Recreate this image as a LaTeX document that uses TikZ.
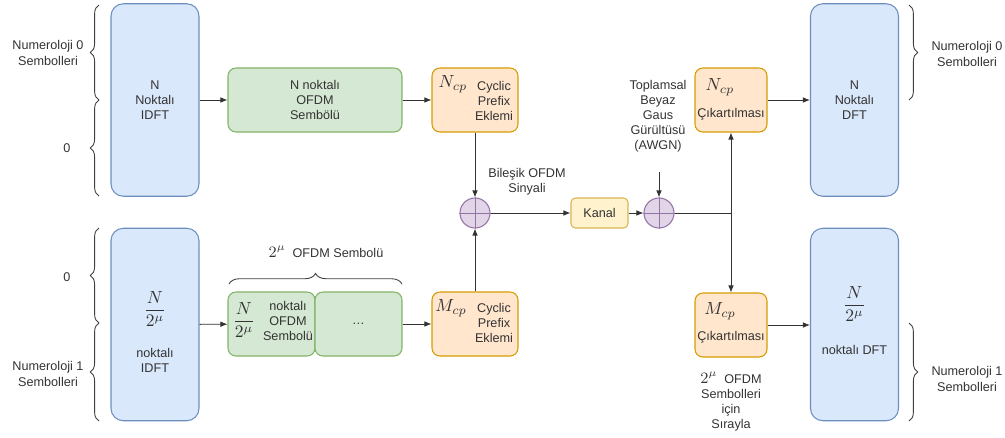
\documentclass[tikz,border=0pt]{standalone}
\usepackage{fontspec}
\setmainfont{Liberation Sans}
\usetikzlibrary{arrows.meta,decorations.pathreplacing}
\definecolor{maviDolgu}{HTML}{DAE8FC}
\definecolor{maviCizgi}{HTML}{6C8EBF}
\definecolor{yesilDolgu}{HTML}{D5E8D4}
\definecolor{yesilCizgi}{HTML}{82B366}
\definecolor{turuncuDolgu}{HTML}{FFE6CC}
\definecolor{turuncuCizgi}{HTML}{D79B00}
\definecolor{sariDolgu}{HTML}{FFF2CC}
\definecolor{sariCizgi}{HTML}{D6B656}
\definecolor{morDolgu}{HTML}{E1D5E7}
\definecolor{morCizgi}{HTML}{9673A6}
\newcommand{\ikimu}{{\fontsize{9}{10}\selectfont\(2^{\mu}\)}}
\begin{document}
\begin{tikzpicture}[x=0.02cm, y=-0.02cm, font=\fontsize{7.2}{8.6}\selectfont, text=black!80,
		every node/.style={align=center, inner sep=1pt},
		mavi/.style={draw=maviCizgi, fill=maviDolgu, line width=0.6pt, rounded corners=7pt, minimum width=1.76cm, minimum height=3.85cm},
		yesil/.style={draw=yesilCizgi, fill=yesilDolgu, line width=0.6pt, rounded corners=4.5pt, minimum height=1.28cm},
		turuncu/.style={draw=turuncuCizgi, fill=turuncuDolgu, line width=0.6pt, rounded corners=4.5pt, minimum height=1.28cm},
		toplam/.style={circle, draw=morCizgi, fill=morDolgu, line width=0.6pt, minimum size=0.6cm, inner sep=0pt},
		ok/.style={draw=black!80, line width=0.5pt, -{Latex[length=4pt,width=3.2pt]}},
		cizgi/.style={draw=black!80, line width=0.5pt},
		kume/.style={draw=black!75, line width=0.5pt, decorate, decoration={brace, amplitude=5pt}},
		kesir/.style={font=\fontsize{10}{12}\selectfont},
		alt/.style={font=\fontsize{10}{12}\selectfont}]
	\useasboundingbox (0,0) rectangle (1005,437);
	\node[mavi](idftA) at (155, 100) {N\\Noktalı\\IDFT};
	\node[mavi](idftB) at (155, 324.5) {};
	\node[kesir](idftBk) at (155, 309) {\(\displaystyle\frac{N}{2^{\mu}}\)};
	\node(idftBt) at (155, 360) {noktalı\\IDFT};
	\node[yesil, minimum width=3.48cm](ofdmA) at (315, 100) {N noktalı\\OFDM\\Sembölü};
	\node[yesil, minimum width=1.74cm](ofdmB1) at (271.5, 324) {};
	\node[yesil, minimum width=1.74cm](ofdmB2) at (358.5, 324) {\dots};
	\node[kesir](ofdmBk) at (244, 320) {\(\displaystyle\frac{N}{2^{\mu}}\)};
	\node(ofdmBt) at (288, 321) {noktalı\\OFDM\\Sembolü};
	\node[turuncu, minimum width=1.72cm](cpA) at (475, 100) {};
	\node[alt](cpAm) at (453, 84) {\(N_{cp}\)};
	\node(cpAt) at (494, 101) {Cyclic\\Prefix\\Eklemi};
	\node[turuncu, minimum width=1.72cm](cpB) at (475, 324) {};
	\node[alt](cpBm) at (451, 308) {\(M_{cp}\)};
	\node(cpBt) at (494, 323) {Cyclic\\Prefix\\Eklemi};
	\node[toplam](sumA) at (475, 213) {};
	\node[draw=sariCizgi, fill=sariDolgu, line width=0.6pt, rounded corners=2.5pt, minimum width=1.14cm, minimum height=0.6cm](kanal) at (599.5, 213) {Kanal};
	\node[toplam](sumB) at (659, 213) {};
	\node[turuncu, minimum width=1.44cm](rmA) at (731, 100) {};
	\node[alt](rmAm) at (720, 87) {\(N_{cp}\)};
	\node(rmAt) at (731, 114) {Çıkartılması};
	\node[turuncu, minimum width=1.44cm](rmB) at (731, 325) {};
	\node[alt](rmBm) at (720, 311) {\(M_{cp}\)};
	\node(rmBt) at (731, 337) {Çıkartılması};
	\node[mavi](dftA) at (854.5, 100) {N\\Noktalı\\DFT};
	\node[mavi](dftB) at (854.5, 324.5) {};
	\node[kesir](dftBk) at (854.5, 304) {\(\displaystyle\frac{N}{2^{\mu}}\)};
	\node(dftBt) at (854.5, 350) {noktalı DFT};
	\node(bilesik) at (527, 182) {Bileşik OFDM\\Sinyali};
	\node(awgn) at (658, 116) {Toplamsal\\Beyaz\\Gaus\\Gürültüsü\\(AWGN)};
	\node(sira) at (731, 402) {\ikimu~~OFDM\\Sembolleri\\için\\Sırayla};
	\node(grup) at (326, 252) {\ikimu~~OFDM Sembolü};
	\node(solA) at (48, 53) {Numeroloji 0\\Sembolleri};
	\node(solB) at (67, 148) {0};
	\node(solC) at (67, 277) {0};
	\node(solD) at (48, 374) {Numeroloji 1\\Sembolleri};
	\node(sagA) at (967, 54) {Numeroloji 0\\Sembolleri};
	\node(sagB) at (967, 379) {Numeroloji 1\\Sembolleri};
	\coordinate(gurultu) at (659, 172);
	\coordinate(ayir) at (731, 213);
	\foreach \ust/\alt in {5/100, 100/196, 228/323, 323/421}
		\draw[kume] (99, \alt) -- (99, \ust);
	\draw[kume] (909, 5) -- (909, 100);
	\draw[kume] (909, 323) -- (909, 421);
	\draw[kume, decoration={brace, amplitude=6pt}] (229, 284) -- (402, 284);
	\draw[cizgi, morCizgi] (sumA.north) -- (sumA.south);
	\draw[cizgi, morCizgi] (sumA.west) -- (sumA.east);
	\draw[cizgi, morCizgi] (sumB.north) -- (sumB.south);
	\draw[cizgi, morCizgi] (sumB.west) -- (sumB.east);
	\draw[ok](idftA) -- (ofdmA);
	\draw[ok](ofdmA) -- (cpA);
	\draw[ok](idftB) -- (ofdmB1);
	\draw[ok](ofdmB2) -- (cpB);
	\draw[ok](cpA) -- (sumA);
	\draw[ok](cpB) -- (sumA);
	\draw[ok](sumA) -- (kanal);
	\draw[ok](kanal) -- (sumB);
	\draw[ok](gurultu) -- (sumB);
	\draw[cizgi](sumB) -- (ayir);
	\draw[ok](ayir) -- (rmA);
	\draw[ok](ayir) -- (rmB);
	\draw[ok](rmA) -- (dftA);
	\draw[ok](rmB.east) -- (rmB.east -| dftB.west);
\end{tikzpicture}
\end{document}
